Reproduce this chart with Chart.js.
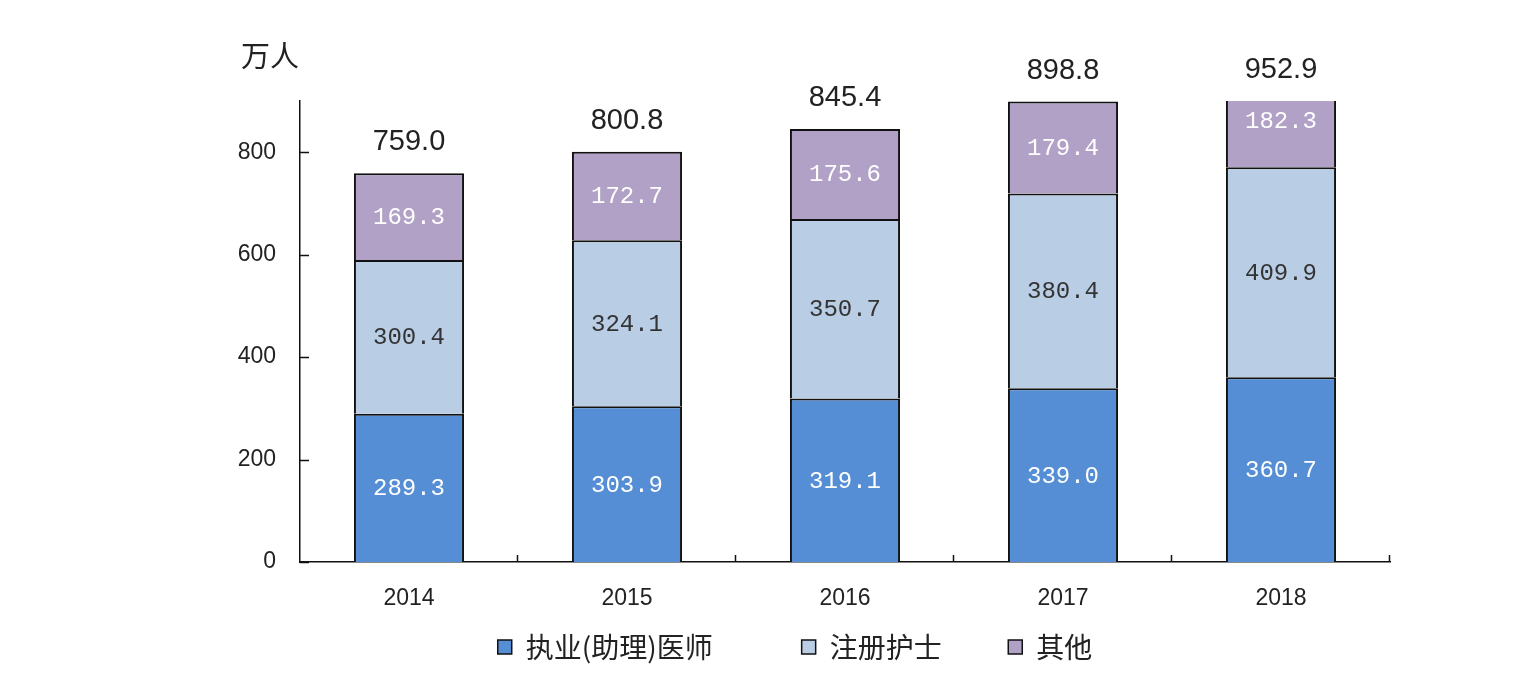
<!DOCTYPE html>
<html>
<head>
<meta charset="utf-8">
<script src="https://cdn.jsdelivr.net/npm/chart.js@4/dist/chart.umd.min.js"></script>
<style>
  html, body { margin: 0; padding: 0; background: #ffffff; }
  #wrap { width: 1524px; height: 675px; position: relative; }
</style>
</head>
<body>
<div id="wrap"><canvas id="c" width="1524" height="675"></canvas></div>
<script>
// ---- data ----
const years = ['2014', '2015', '2016', '2017', '2018'];
const seriesNames = ['执业(助理)医师', '注册护士', '其他'];
const doctors = [289.3, 303.9, 319.1, 339.0, 360.7];
const nurses = [300.4, 324.1, 350.7, 380.4, 409.9];
const others = [169.3, 172.7, 175.6, 179.4, 182.3];
const totals = [759.0, 800.8, 845.4, 898.8, 952.9];
const yTickValues = [0, 200, 400, 600, 800];
const unitLabel = '万人';

const colors = ['#558ED5', '#B9CDE5', '#B2A1C7'];
const labelColors = ['#ffffff', '#333333', '#ffffff'];
const legendSpacers = ['\u2003\u2003\u2002', '\u2003\u2002\u2009', ''];

const segmentLabels = {
  id: 'segmentLabels',
  afterDatasetsDraw(chart) {
    const ctx = chart.ctx;
    ctx.save();
    ctx.textAlign = 'center';
    ctx.textBaseline = 'middle';
    ctx.font = '24px "Liberation Mono", "DejaVu Sans Mono", monospace';
    chart.data.datasets.forEach((ds, di) => {
      const meta = chart.getDatasetMeta(di);
      meta.data.forEach((el, i) => {
        const yc = (el.y + el.base) / 2;
        ctx.fillStyle = labelColors[di];
        ctx.fillText(ds.data[i].toFixed(1), el.x, yc + 1);
      });
    });
    // totals
    const ys = chart.scales.y;
    const xs = chart.scales.x;
    ctx.font = '29px "Liberation Sans", Arial, sans-serif';
    ctx.fillStyle = '#222222';
    totals.forEach((t, i) => {
      const top = Math.max(ys.getPixelForValue(t), chart.chartArea.top);
      ctx.fillText(t.toFixed(1), xs.getPixelForValue(i), top - 31);
    });
    // unit label
    ctx.font = '29px "Noto Sans CJK SC", sans-serif';
    ctx.fillText(unitLabel, chart.chartArea.left - 30, 56);
    ctx.restore();
  }
};

const innerTicks = {
  id: 'innerTicks',
  afterDraw(chart) {
    const ctx = chart.ctx;
    const ys = chart.scales.y;
    const a = chart.chartArea;
    ctx.save();
    ctx.strokeStyle = '#111111';
    ctx.lineWidth = 1.5;
    ctx.beginPath();
    yTickValues.forEach(v => {
      const y = Math.round(ys.getPixelForValue(v)) + 0.5;
      ctx.moveTo(a.left, y);
      ctx.lineTo(a.left + 9, y);
    });
    const n = years.length;
    const w = (a.right - a.left) / n;
    for (let i = 1; i <= n; i++) {
      const x = Math.round(a.left + i * w) - 0.5;
      ctx.moveTo(x, a.bottom);
      ctx.lineTo(x, a.bottom - 7);
    }
    ctx.stroke();
    ctx.restore();
  }
};

const datasets = [doctors, nurses, others].map((d, i) => ({
  label: seriesNames[i],
  data: d,
  backgroundColor: colors[i],
  borderColor: '#111111',
  borderWidth: 2,
  borderSkipped: 'start',
  barPercentage: 0.505,
  categoryPercentage: 1.0
}));

new Chart(document.getElementById('c'), {
  type: 'bar',
  data: { labels: years, datasets: datasets },
  options: {
    responsive: false,
    animation: false,
    layout: { padding: { left: 200, right: 134, top: 101, bottom: 4 } },
    plugins: {
      legend: {
        position: 'bottom',
        labels: {
          font: { size: 28, family: '"Noto Sans CJK SC", sans-serif' },
          color: '#222222',
          boxWidth: 14,
          boxHeight: 14,
          padding: 19,
          generateLabels(chart) {
            const items = Chart.defaults.plugins.legend.labels.generateLabels(chart);
            items.forEach((it, i) => {
              it.text = it.text + legendSpacers[i];
              it.lineWidth = 1.5;
            });
            return items;
          }
        }
      },
      tooltip: { enabled: false }
    },
    scales: {
      x: {
        stacked: true,
        grid: { display: false, drawTicks: false },
        border: { display: true, color: '#111111', width: 1.5 },
        ticks: {
          color: '#222222',
          font: { size: 23, family: '"Liberation Sans", Arial, sans-serif' },
          padding: 23
        },
        afterFit(scale) { scale.height = 52; }
      },
      y: {
        stacked: true,
        min: 0,
        max: 900,
        grid: { display: false, drawTicks: false },
        border: { display: true, color: '#111111', width: 1.5 },
        ticks: {
          color: '#222222',
          font: { size: 23, family: '"Liberation Sans", Arial, sans-serif' },
          padding: 24
        },
        afterBuildTicks(scale) {
          scale.ticks = yTickValues.map(v => ({ value: v }));
        },
        afterFit(scale) { scale.width = 100; }
      }
    }
  },
  plugins: [segmentLabels, innerTicks]
});
</script>
</body>
</html>
